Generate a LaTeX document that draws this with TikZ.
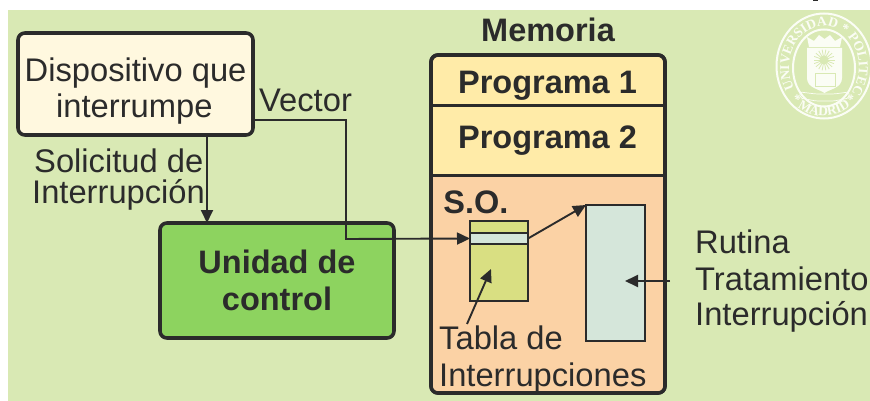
\documentclass[tikz,border=0pt]{standalone}
\usepackage{fontspec}
\setmainfont{Liberation Sans}
\newfontfamily\logofont{Liberation Serif}
\usetikzlibrary{arrows.meta,decorations.text}
\definecolor{bgc}{HTML}{D9E9B4}
\definecolor{creamc}{HTML}{FFF8DF}
\definecolor{greenc}{HTML}{8DD35F}
\definecolor{yellowc}{HTML}{FFEBA8}
\definecolor{orangec}{HTML}{FBD2A5}
\definecolor{tablec}{HTML}{D9DF82}
\definecolor{rutc}{HTML}{D5E6DA}
\definecolor{inkc}{HTML}{2B2B2B}
\definecolor{logoc}{HTML}{FBFDF5}
\tikzset{
  x=1pt,y=-1pt,
  every node/.style={text=inkc},
  bigbox/.style={draw=inkc,line width=3.6pt,rounded corners=7pt,outer sep=0pt},
  thinbox/.style={draw=inkc,line width=2pt,outer sep=0pt},
  lab/.style={anchor=base west,inner sep=0pt,font=\fontsize{32.7}{36}\selectfont},
  blab/.style={anchor=base,inner sep=0pt,font=\fontsize{32.5}{36}\selectfont\bfseries},
  conn/.style={draw=inkc,line width=1.9pt,-{Triangle[length=13pt,width=12pt]}},
  logoline/.style={draw=logoc,line width=2pt},
}
\begin{document}
\begin{tikzpicture}
\useasboundingbox (0,0) rectangle (870,401);
\fill[bgc] (8,10) rectangle (870,401);
\fill[inkc] (813,0) rectangle (818,1.5);
% logo
\draw[logoline] (824,66) ellipse [x radius=47.5,y radius=52.5];
\draw[logoline] (824,68) ellipse [x radius=31,y radius=38.5];
\path[postaction={decorate,decoration={text along path,text align={fit to path},
  text={|\fontsize{13.5}{14}\logofont\bfseries\color{logoc}|UNIVERSIDAD * POLITECNICA}}}]
  plot[domain=212:-32,samples=50] ({824+35*cos(\x)},{67-41*sin(\x)});
\path[postaction={decorate,decoration={text along path,text align={fit to path},
  text={|\fontsize{13.5}{14}\logofont\bfseries\color{logoc}|* MADRID *}}}]
  plot[domain=222:318,samples=40] ({824+45*cos(\x)},{66-50*sin(\x)});
\fill[logoc] (807,48) -- (842,48) -- (842,78) .. controls (842,88) and (830,89) .. (824.5,93) .. controls (819,89) and (807,88) .. (807,78) -- cycle;
\fill[logoc] (809,47) -- (807,37) -- (814,41) -- (819,35) -- (824.5,39) -- (830,35) -- (835,41) -- (842,37) -- (840,47) -- cycle;
\foreach \a in {0,20,...,340}{\draw[bgc,line width=.8pt] (824,60) -- ++(\a:10.5);}
\fill[bgc] (824,60) circle (4.5);
\draw[bgc,line width=.9pt] (815,73) rectangle (835,86);
\draw[logoc,line width=.7pt,rounded corners=2pt] (800,92) -- (816,94) -- (834,94) -- (849,92) -- (849,98) -- (834,101) -- (816,101) -- (800,98) -- cycle;
% boxes
\node[bigbox,fill=creamc,minimum width=235pt,minimum height=102pt,anchor=north west,inner sep=0pt] (disp) at (18,33) {};
\node[bigbox,fill=greenc,minimum width=234pt,minimum height=115pt,anchor=north west,inner sep=0pt] (uc) at (160,223) {};
\draw[bigbox,fill=yellowc] (431,55) rectangle (665,393);
\begin{scope}
\clip[rounded corners=7pt] (431,55) rectangle (665,393);
\fill[orangec] (431,175) rectangle (665,393);
\end{scope}
\draw[inkc,line width=3pt] (431,106) -- (665,106);
\draw[inkc,line width=3pt] (431,175) -- (665,175);
\draw[bigbox] (431,55) rectangle (665,393);
\node[thinbox,fill=tablec,minimum width=58pt,minimum height=80pt,anchor=north west,inner sep=0pt] (tabla) at (470,221) {};
\node[thinbox,fill=rutc,minimum width=58pt,minimum height=11pt,anchor=north west,inner sep=0pt] (banda) at (470,233) {};
\node[thinbox,fill=rutc,minimum width=59pt,minimum height=136pt,anchor=north west,inner sep=0pt] (rutina) at (586,205) {};
% labels
\node[lab] (l1) at (24.5,82) {Dispositivo que};
\node[lab] (l2) at (56,118) {interrumpe};
\node[lab] (l3) at (34,172) {Solicitud de};
\node[lab] (l4) at (32,203) {Interrupción};
\node[lab] (l5) at (259,112) {Vector};
\node[blab] (u1) at (277,273) {Unidad de};
\node[blab] (u2) at (277,310) {control};
\node[blab] (m0) at (548,42) {Memoria};
\node[blab] (p1) at (547.5,94) {Programa 1};
\node[blab] (p2) at (547.5,149) {Programa 2};
\node[blab] (so) at (476,213) {S.O.};
\node[lab] (t1) at (439,349) {Tabla de};
\node[lab] (t2) at (439,386) {Interrupciones};
\node[lab] (r1) at (695,253) {Rutina};
\node[lab] (r2) at (695,290) {Tratamiento};
\node[lab] (r3) at (695,325) {Interrupción};
% connectors
\coordinate (vs) at (253,120);
\coordinate (ve) at (346,120);
\coordinate (vd) at (346,239);
\coordinate (tl) at (467,324);
\coordinate (tp) at (491,269);
\coordinate (rl) at (670,281);
\coordinate (rp) at (625,281);
\draw[conn] (vs) -- (ve) -- (vd) -- (banda.west);
\draw[conn] (disp.south -| 207,0) -- (uc.north -| 207,0);
\draw[conn] (banda.east) -- (rutina.north west);
\draw[conn] (tl) -- (tp);
\draw[conn] (rl) -- (rp);
\end{tikzpicture}
\end{document}
